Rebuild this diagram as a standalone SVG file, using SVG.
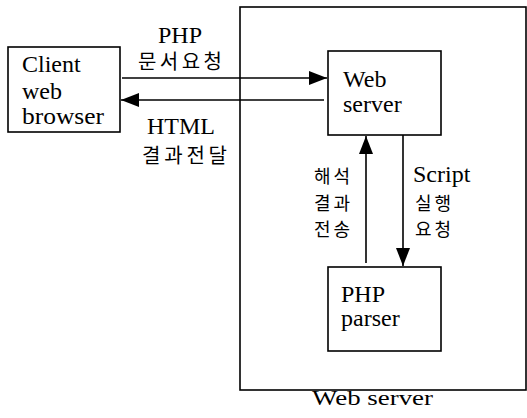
<svg xmlns="http://www.w3.org/2000/svg" width="527" height="418" viewBox="0 0 527 418">
<style>
.box{fill:#fff;stroke:#000;stroke-width:1.6}
.outer{fill:none;stroke:#000;stroke-width:1.6}
.t{font-family:'Liberation Serif','DejaVu Serif',serif;font-size:24px;fill:#000}
.k{font-family:'Noto Sans CJK KR',sans-serif;font-size:20px;fill:#000}
.kv{font-family:'Noto Sans CJK KR',sans-serif;font-size:18px;fill:#000;letter-spacing:3px}
.c{fill:none;stroke:#000;stroke-width:1.6}
</style>
<defs>
<marker id="ah" viewBox="0 0 18 14" refX="18" refY="7" markerWidth="18" markerHeight="14" markerUnits="userSpaceOnUse" orient="auto">
<path d="M0,0 L18,7 L0,14 Z" fill="#000"/>
</marker>
</defs>
<rect width="527" height="418" fill="#fff"/>
<g id="outer-web-server">
<rect class="outer" x="240" y="7" width="286" height="383"/>
<text class="t" x="312" y="405" style="font-size:20px" textLength="121" lengthAdjust="spacingAndGlyphs">Web server</text>
</g>
<g id="client">
<rect class="box" x="8" y="47" width="112" height="85"/>
<text class="t" x="22" y="72">Client</text>
<text class="t" x="22" y="99">web</text>
<text class="t" x="22" y="124" textLength="82" lengthAdjust="spacingAndGlyphs">browser</text>
</g>
<g id="web-server">
<rect class="box" x="328" y="51" width="113" height="84"/>
<text class="t" x="343" y="87">Web</text>
<text class="t" x="343" y="112">server</text>
</g>
<g id="php-parser">
<rect class="box" x="328" y="267" width="113" height="84"/>
<text class="t" x="341" y="302">PHP</text>
<text class="t" x="341" y="326">parser</text>
</g>
<g id="connectors">
<line class="c" x1="122" y1="78" x2="327" y2="78" marker-end="url(#ah)"/>
<line class="c" x1="324" y1="100" x2="121" y2="100" marker-end="url(#ah)"/>
<line class="c" x1="366" y1="263" x2="366" y2="136" marker-end="url(#ah)"/>
<line class="c" x1="403" y1="135" x2="403" y2="266" marker-end="url(#ah)"/>
</g>
<g id="labels">
<text class="t" x="158" y="43">PHP</text>
<text class="k" x="138" y="69" textLength="84" lengthAdjust="spacing">문서요청</text>
<text class="t" x="147" y="134">HTML</text>
<text class="k" x="142" y="163" textLength="85" lengthAdjust="spacing">결과전달</text>
<text class="kv" x="314" y="183">해석</text>
<text class="kv" x="314" y="209.5">결과</text>
<text class="kv" x="314" y="236">전송</text>
<text class="t" x="413" y="182">Script</text>
<text class="kv" x="415" y="209.5">실행</text>
<text class="kv" x="415" y="236">요청</text>
</g>
</svg>
